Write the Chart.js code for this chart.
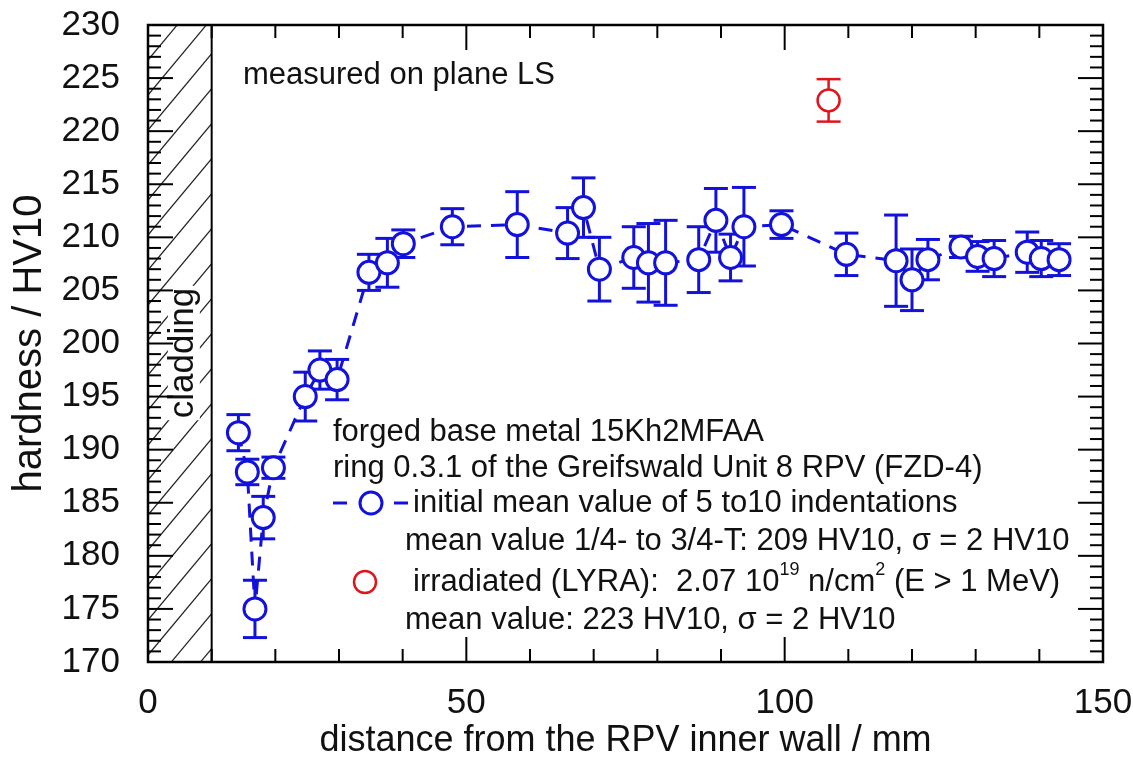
<!DOCTYPE html>
<html>
<head>
<meta charset="utf-8">
<script src="https://cdn.jsdelivr.net/npm/chart.js@4.4.0/dist/chart.umd.min.js"></script>
<style>
    html, body { margin: 0; padding: 0; background: #fff; }
    #wrap { width: 1133px; height: 763px; }
</style>
</head>
<body>
<div id="wrap"><canvas id="hardness-chart" width="1133" height="763"></canvas></div>
<script>
// Values (mm, HV10)
const distance = [14.2, 15.6, 16.8, 18.1, 19.7, 24.7, 27.0, 29.7, 34.7, 37.6, 40.1, 47.8,
    58.0, 65.9, 68.4, 70.9, 76.3, 78.6, 81.3, 86.5, 89.2, 91.5, 93.6, 99.5,
    109.7, 117.5, 120.0, 122.5, 127.7, 130.3, 132.9, 138.1, 140.3, 143.1];
const hardness = [191.6, 187.9, 175.0, 183.6, 188.3, 195.0, 197.5, 196.6, 206.7, 207.6, 209.4, 211.0,
    211.2, 210.4, 212.8, 207.0, 208.1, 207.6, 207.6, 207.9, 211.6, 208.1, 211.0, 211.2,
    208.4, 207.8, 206.0, 207.9, 209.1, 208.2, 208.0, 208.6, 208.0, 207.9];
const hardnessErr = [1.7, 1.2, 2.7, 2.0, 1.0, 2.3, 1.8, 1.9, 1.7, 2.3, 1.3, 1.7,
    3.1, 2.4, 2.8, 3.0, 2.9, 3.7, 4.0, 3.1, 3.0, 2.2, 3.7, 1.3,
    2.0, 4.3, 2.9, 1.9, 1.0, 1.4, 1.7, 1.9, 1.7, 1.5];

// irradiated sample (LYRA)
const irrDistance = [106.9];
const irrHardness = [222.9];
const irrErr = [2.0];

const xTicks = [0, 50, 100, 150];
const yTicks = [170, 175, 180, 185, 190, 195, 200, 205, 210, 215, 220, 225, 230];
const claddingEnd = 10; // mm

const FONT = "'Liberation Sans', Arial, Helvetica, sans-serif";
const BLUE = '#1212dc';
const RED = '#e0141c';

function toPoints(xs, ys) {
    return xs.map((v, i) => ({ x: v, y: ys[i] }));
}

function line(ctx, x1, y1, x2, y2) {
    ctx.beginPath();
    ctx.moveTo(x1, y1);
    ctx.lineTo(x2, y2);
    ctx.stroke();
}

// no extra room for tick labels, layout padding decides the plot box
function noScalePadding(s) {
    s.paddingTop = 0;
    s.paddingBottom = 0;
    s.paddingLeft = 0;
    s.paddingRight = 0;
}

// hatched cladding zone + label
const claddingPlugin = {
    id: 'cladding',
    beforeDatasetsDraw(chart) {
        const { ctx, chartArea: a, scales: { x } } = chart;
        const x0 = x.getPixelForValue(0);
        const x1 = x.getPixelForValue(claddingEnd);
        const w = x1 - x0;
        const rise = w * 1.2;

        ctx.save();
        ctx.beginPath();
        ctx.rect(x0, a.top, w, a.bottom - a.top);
        ctx.clip();
        ctx.strokeStyle = '#222';
        ctx.lineWidth = 1.2;
        for (let y = a.top - rise; y < a.bottom + rise; y += 35) {
            line(ctx, x0, y + rise, x1, y);
        }
        ctx.restore();

        ctx.save();
        ctx.translate((x0 + x1) / 2 + 4, a.top + (a.bottom - a.top) * 0.515);
        ctx.rotate(-Math.PI / 2);
        ctx.font = '35px ' + FONT;
        const tw = ctx.measureText('cladding').width;
        ctx.fillStyle = '#fff';
        ctx.fillRect(-tw / 2 - 2, -16, tw + 4, 32);
        ctx.fillStyle = '#111';
        ctx.textAlign = 'center';
        ctx.textBaseline = 'middle';
        ctx.fillText('cladding', 0, 0);
        ctx.restore();
    }
};

function drawErrorBars(ctx, xs, ys, dx, dy, de, color, width) {
    ctx.save();
    ctx.strokeStyle = color;
    ctx.lineWidth = width;
    dx.forEach((v, i) => {
        const px = xs.getPixelForValue(v);
        const top = ys.getPixelForValue(dy[i] + de[i]);
        const bot = ys.getPixelForValue(dy[i] - de[i]);
        line(ctx, px, top, px, bot);
        line(ctx, px - 12, top, px + 12, top);
        line(ctx, px - 12, bot, px + 12, bot);
    });
    ctx.restore();
}

const errorBarPlugin = {
    id: 'errorBars',
    beforeDatasetsDraw(chart) {
        const { ctx, scales: { x, y } } = chart;
        drawErrorBars(ctx, x, y, distance, hardness, hardnessErr, BLUE, 3);
        drawErrorBars(ctx, x, y, irrDistance, irrHardness, irrErr, RED, 2.5);
    }
};

// box around the plot with inward ticks on all four sides
const frameTicksPlugin = {
    id: 'frameTicks',
    afterDraw(chart) {
        const { ctx, chartArea: a, scales: { x, y } } = chart;
        ctx.save();
        ctx.strokeStyle = '#000';
        ctx.lineWidth = 2;
        for (let v = y.min; v <= y.max; v++) {
            const py = y.getPixelForValue(v);
            const len = v % 5 === 0 ? 25 : 13;
            line(ctx, a.left, py, a.left + len, py);
            line(ctx, a.right, py, a.right - len, py);
        }
        for (let v = x.min; v <= x.max; v += 10) {
            const px = x.getPixelForValue(v);
            const len = v % 50 === 0 ? 25 : 13;
            line(ctx, px, a.bottom, px, a.bottom - len);
            line(ctx, px, a.top, px, a.top + len);
        }
        const xc = x.getPixelForValue(claddingEnd);
        line(ctx, xc, a.top, xc, a.bottom);
        ctx.lineWidth = 2.5;
        ctx.strokeRect(a.left, a.top, a.right - a.left, a.bottom - a.top);
        ctx.restore();
    }
};

// text runs, sup = superscript
function drawRich(ctx, parts, x, y, size) {
    let cx = x;
    parts.forEach(p => {
        if (p.sup) {
            ctx.font = Math.round(size * 0.58) + 'px ' + FONT;
            ctx.fillText(p.t, cx, y - size * 0.38);
        } else {
            ctx.font = size + 'px ' + FONT;
            ctx.fillText(p.t, cx, y);
        }
        cx += ctx.measureText(p.t).width;
    });
}

const notesPlugin = {
    id: 'notes',
    afterDraw(chart) {
        const { ctx } = chart;
        const size = 31;
        ctx.save();
        ctx.fillStyle = '#111';
        ctx.textAlign = 'left';
        ctx.textBaseline = 'middle';
        drawRich(ctx, [{ t: 'measured on plane LS' }], 243, 75, size);
        drawRich(ctx, [{ t: 'forged base metal 15Kh2MFAA' }], 333, 432, size);
        drawRich(ctx, [{ t: 'ring 0.3.1 of the Greifswald Unit 8 RPV (FZD-4)' }], 333, 468, size);
        drawRich(ctx, [{ t: 'initial mean value of 5 to10 indentations' }], 413, 503, size);
        drawRich(ctx, [{ t: 'mean value 1/4- to 3/4-T: 209 HV10, \u03c3 = 2 HV10' }], 405, 541, size);
        drawRich(ctx, [
            { t: 'irradiated (LYRA):  2.07 10' }, { t: '19', sup: true },
            { t: ' n/cm' }, { t: '2', sup: true }, { t: ' (E > 1 MeV)' }
        ], 413, 582, size);
        drawRich(ctx, [{ t: 'mean value: 223 HV10, \u03c3 = 2 HV10' }], 405, 620, size);

        // legend symbols
        ctx.strokeStyle = BLUE;
        ctx.lineWidth = 3;
        line(ctx, 333, 503, 347, 503);
        line(ctx, 394, 503, 408, 503);
        ctx.beginPath();
        ctx.arc(371, 503, 11, 0, Math.PI * 2);
        ctx.stroke();
        ctx.strokeStyle = RED;
        ctx.lineWidth = 2.5;
        ctx.beginPath();
        ctx.arc(365, 582, 11, 0, Math.PI * 2);
        ctx.stroke();
        ctx.restore();
    }
};

function createHardnessChart() {
    const ctx = document.getElementById('hardness-chart').getContext('2d');
    new Chart(ctx, {
        type: 'line',
        data: {
            datasets: [
                {
                    label: 'initial',
                    data: toPoints(distance, hardness),
                    borderColor: BLUE,
                    borderWidth: 3,
                    borderDash: [14, 10],
                    tension: 0,
                    pointRadius: 11,
                    pointBorderWidth: 3,
                    pointBorderColor: BLUE,
                    pointBackgroundColor: '#fff'
                },
                {
                    label: 'irradiated',
                    data: toPoints(irrDistance, irrHardness),
                    showLine: false,
                    borderColor: RED,
                    pointRadius: 11,
                    pointBorderWidth: 2.5,
                    pointBorderColor: RED,
                    pointBackgroundColor: '#fff'
                }
            ]
        },
        options: {
            responsive: false,
            animation: false,
            devicePixelRatio: 1,
            layout: { padding: { top: 25, right: 30, left: 0, bottom: 0 } },
            plugins: { legend: { display: false }, tooltip: { enabled: false } },
            scales: {
                x: {
                    type: 'linear',
                    min: 0,
                    max: 150,
                    afterBuildTicks: s => { s.ticks = xTicks.map(v => ({ value: v })); },
                    afterFit: s => { s.height = 101; noScalePadding(s); },
                    grid: { display: false, drawTicks: false },
                    border: { display: false },
                    ticks: { font: { size: 35, family: FONT }, color: '#111', padding: 20, maxRotation: 0 },
                    title: {
                        display: true,
                        text: 'distance from the RPV inner wall / mm',
                        font: { size: 36, family: FONT },
                        color: '#111',
                        padding: { top: 0, bottom: 0 }
                    }
                },
                y: {
                    type: 'linear',
                    min: 170,
                    max: 230,
                    afterBuildTicks: s => { s.ticks = yTicks.map(v => ({ value: v })); },
                    afterFit: s => { s.width = 148; noScalePadding(s); },
                    grid: { display: false, drawTicks: false },
                    border: { display: false },
                    ticks: { font: { size: 35, family: FONT }, color: '#111', padding: 28 },
                    title: {
                        display: true,
                        text: 'hardness / HV10',
                        font: { size: 40, family: FONT },
                        color: '#111',
                        padding: { top: 6, bottom: 0 }
                    }
                }
            }
        },
        plugins: [claddingPlugin, errorBarPlugin, frameTicksPlugin, notesPlugin]
    });
}

createHardnessChart();
</script>
</body>
</html>
